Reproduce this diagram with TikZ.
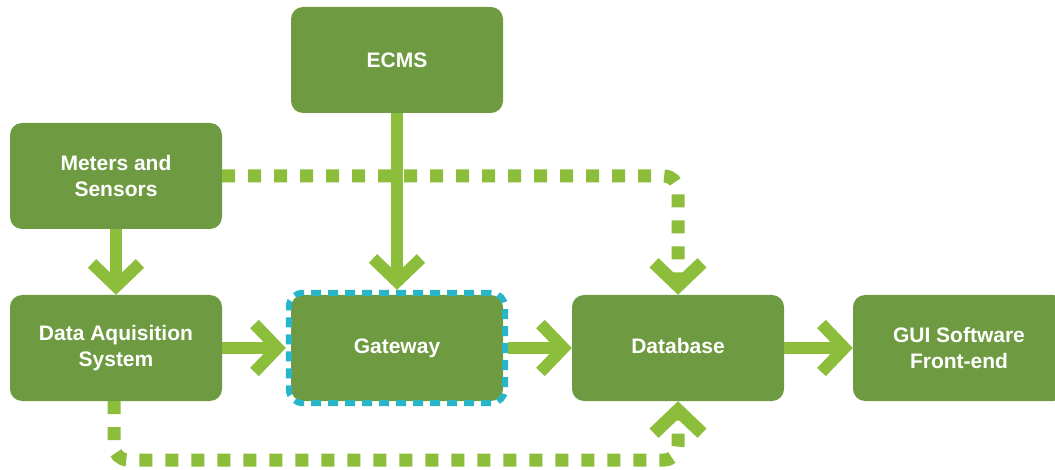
\documentclass[tikz,border=0pt]{standalone}
\usepackage{fontspec}
\setmainfont{Liberation Sans}
\usetikzlibrary{arrows.meta,fit}
\definecolor{boxgreen}{HTML}{6E9B41}
\definecolor{arrowgreen}{HTML}{8CBE3C}
\definecolor{gwcyan}{HTML}{29B5C8}

\begin{document}
\begin{tikzpicture}[x=1pt,y=-1pt,
	box/.style={fill=boxgreen,rounded corners=12pt,minimum width=212pt,minimum height=106pt,inner sep=0pt,text=white,align=center,font=\bfseries\fontsize{21}{26}\selectfont},
	gwframe/.style={draw=gwcyan,line width=6pt,dash pattern=on 10pt off 7pt,rounded corners=14pt,inner sep=2pt},
	flow/.style={draw=arrowgreen,line width=12pt,-{Straight Barb[length=23pt,width=48pt]}},
	dflow/.style={flow,line width=13pt,dash pattern=on 13pt off 13pt,rounded corners=14pt}]
	\useasboundingbox (0,0) rectangle (1055,470);
	\node[box] (ecms) at (397,60) {ECMS};
	\node[box] (ms) at (116,176) {Meters and\\Sensors};
	\node[box] (dq) at (116,348) {Data Aquisition\\System};
	\node[box] (gw) at (397,348) {\strut Gateway};
	\node[gwframe,fit=(gw)] (gwf) {};
	\node[box] (db) at (678,348) {\strut Database};
	\node[box] (gui) at (959,348) {GUI Software\\Front-end};
	\coordinate (dqlow) at (114,460);

	\draw[flow] (ms) -- (dq);
	\draw[flow] (ecms) -- (gwf);
	\draw[flow] (dq) -- (gwf);
	\draw[flow] (gwf) -- (db);
	\draw[flow] (db) -- (gui);
	\draw[dflow] (ms.east) -| (db.north);
	\draw[dflow] (dq.south -| dqlow) -- (dqlow) -| (db.south);
\end{tikzpicture}
\end{document}
